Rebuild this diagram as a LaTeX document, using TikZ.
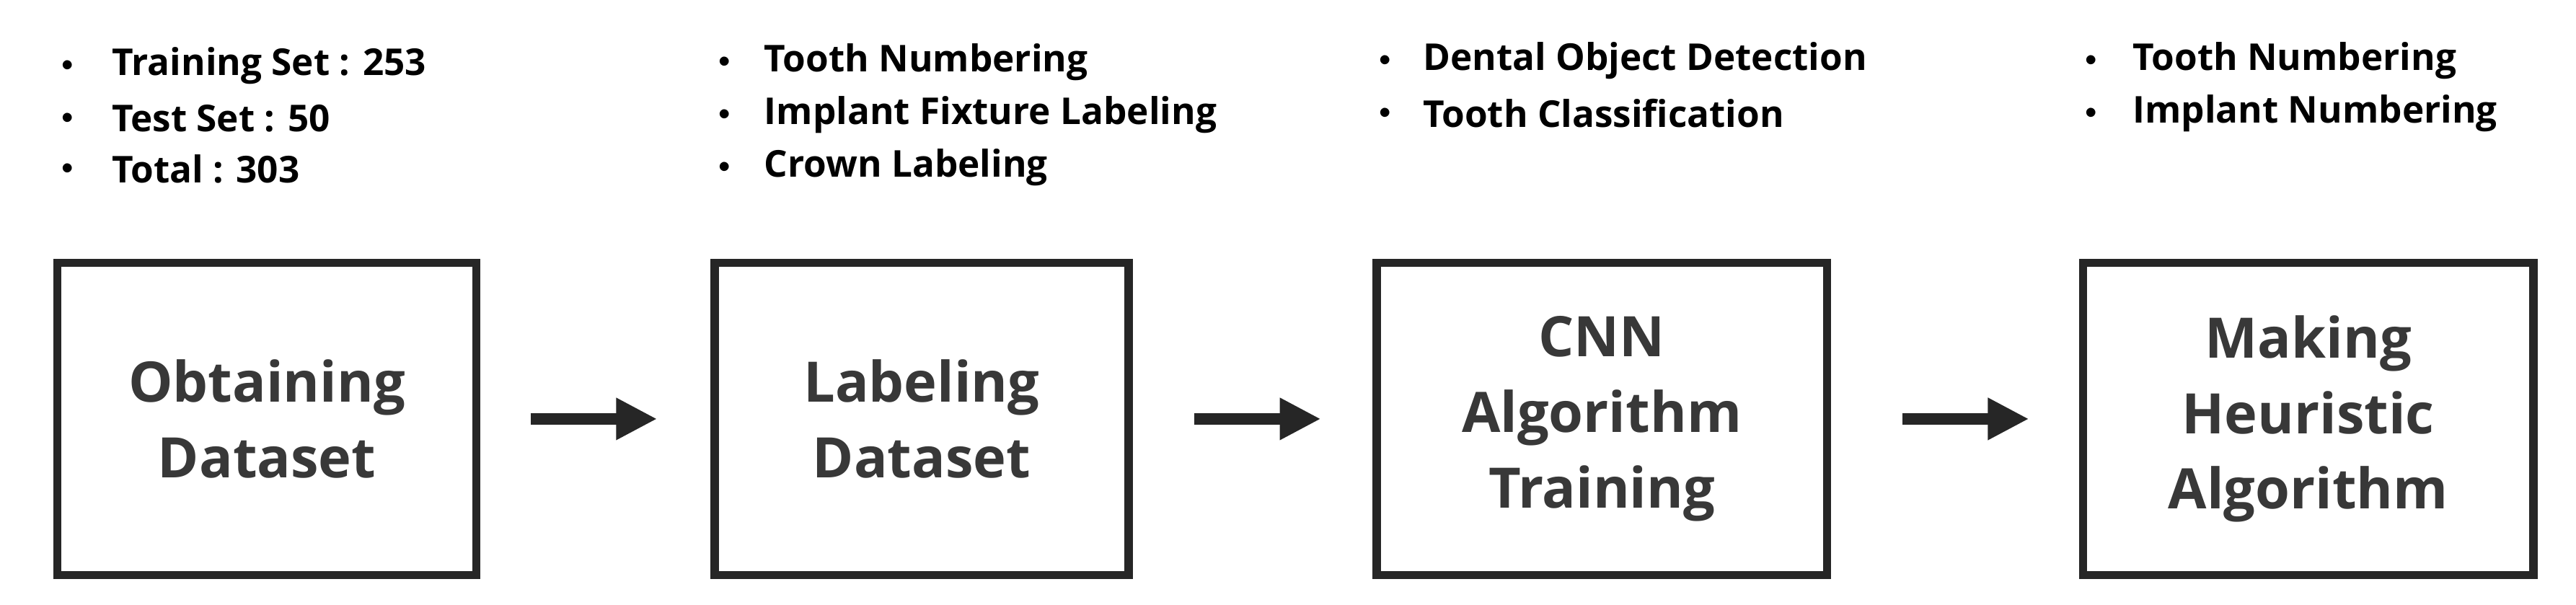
\documentclass[tikz,border=0pt]{standalone}
\usepackage{fontspec}
\setmainfont{Open Sans}
\usetikzlibrary{arrows.meta}
\begin{document}
\begin{tikzpicture}[x=1pt,y=-1pt,
 box/.style={draw=black!85,line width=5pt,inner sep=0pt},
 lbl/.style={text=black!78,font=\fontsize{34}{46}\selectfont\bfseries,align=center},
 bl/.style={anchor=west,font=\fontsize{22.5}{23}\selectfont\bfseries,inner sep=0pt},
 dot/.style={anchor=center,font=\fontsize{14}{16}\selectfont,inner sep=0pt},
 arr/.style={draw=black!85,line width=7pt,-{Triangle[length=25pt,width=24pt]}}]
\useasboundingbox (0,0) rectangle (1568,368);
\node[box,minimum width=255pt,minimum height=190pt] (b1) at (162.5,255) {};
\node[box,minimum width=252pt,minimum height=190pt] (b2) at (561,255) {};
\node[box,minimum width=274pt,minimum height=190pt] (b3) at (975,255) {};
\node[box,minimum width=274pt,minimum height=190pt] (b4) at (1405,255) {};
\node[lbl] (t1) at (b1) {Obtaining\\Dataset};
\node[lbl] (t2) at (b2) {Labeling\\Dataset};
\node[lbl] (t3) at (b3) {CNN\\Algorithm\\Training};
\node[lbl] (t4) at (b4) {Making\\Heuristic\\Algorithm};
\coordinate (a1s) at (323,255); \coordinate (a1e) at (400,255);
\coordinate (a2s) at (727,255); \coordinate (a2e) at (804,255);
\coordinate (a3s) at (1158,255); \coordinate (a3e) at (1235,255);
\draw[arr] (a1s) -- (a1e);
\draw[arr] (a2s) -- (a2e);
\draw[arr] (a3s) -- (a3e);
\foreach \y/\t [count=\i] in {40/Training Set : 253,72/Test Set : 50,103/Total : 303}{
 \node[dot] (d1\i) at (41,\y) {$\bullet$}; \node[bl] (l1\i) at (68,\y) {\t};}
\foreach \y/\t [count=\i] in {38/Tooth Numbering,70/Implant Fixture Labeling,102/Crown Labeling}{
 \node[dot] (d2\i) at (441,\y) {$\bullet$}; \node[bl] (l2\i) at (465,\y) {\t};}
\foreach \y/\t [count=\i] in {37/Dental Object Detection,69/Tooth Classification}{
 \node[dot] (d3\i) at (843,\y) {$\bullet$}; \node[bl] (l3\i) at (866,\y) {\t};}
\foreach \y/\t [count=\i] in {37/Tooth Numbering,69/Implant Numbering}{
 \node[dot] (d4\i) at (1273,\y) {$\bullet$}; \node[bl] (l4\i) at (1298,\y) {\t};}
\end{tikzpicture}
\end{document}
